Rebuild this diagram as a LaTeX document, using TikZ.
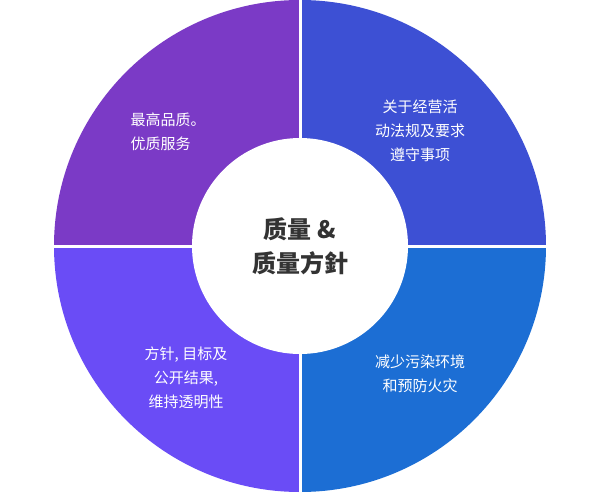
\documentclass[tikz,border=0pt]{standalone}
\usepackage{fontspec}
\newfontfamily\cjk{Noto Sans CJK SC}
\definecolor{qa}{HTML}{7B3AC6}
\definecolor{qb}{HTML}{3D50D4}
\definecolor{qc}{HTML}{1C6ED4}
\definecolor{qd}{HTML}{6A4CF6}
\definecolor{ctext}{HTML}{333333}
\tikzset{lbl/.style={text=white,font=\cjk\fontsize{15}{24}\selectfont,align=center},
sep/.style={draw=white,line width=3pt}}
\begin{document}
\begin{tikzpicture}[x=1pt,y=-1pt]
\useasboundingbox (0,0) rectangle (600,493);
\coordinate (c) at (300,246);
\fill[qa] (c) -- (54,246) arc[start angle=180,end angle=270,radius=246] -- cycle;
\fill[qb] (c) -- (300,0) arc[start angle=270,end angle=360,radius=246] -- cycle;
\fill[qc] (c) -- (546,246) arc[start angle=0,end angle=90,radius=246] -- cycle;
\fill[qd] (c) -- (300,492) arc[start angle=90,end angle=180,radius=246] -- cycle;
\draw[sep] (50,246) -- (550,246);
\draw[sep] (300,-4) -- (300,496);
\node[circle,fill=white,minimum size=216pt,inner sep=0pt] (hub) at (c) {};
\node[font=\cjk\bfseries\fontsize{24}{34}\selectfont,text=ctext,align=center] (t0) at (c) {质量 \&\\质量方針};
\node[lbl,align=left] (t1) at (168,132) {最高品质。\\优质服务};
\node[lbl] (t2) at (420,131) {关于经营活\\动法规及要求\\遵守事项};
\node[lbl] (t3) at (420,374) {减少污染环境\\和预防火灾};
\node[lbl] (t4) at (186,378) {方针, 目标及\\公开结果,\\维持透明性};
\end{tikzpicture}
\end{document}
